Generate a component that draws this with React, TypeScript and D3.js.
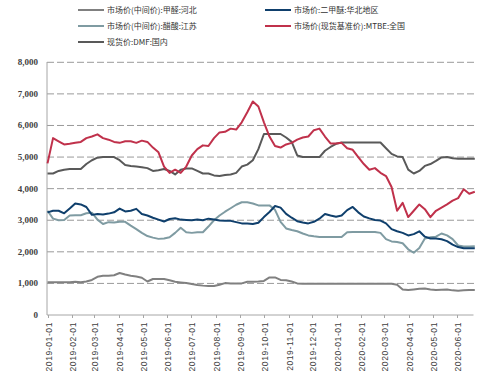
import React from "react";
import * as d3 from "d3";

const START_DATE = "2019-01-01";
const WEEKS = 78;

const monthTicks = [
  "2019-01-01", "2019-02-01", "2019-03-01", "2019-04-01", "2019-05-01", "2019-06-01",
  "2019-07-01", "2019-08-01", "2019-09-01", "2019-10-01", "2019-11-01", "2019-12-01",
  "2020-01-01", "2020-02-01", "2020-03-01", "2020-04-01", "2020-05-01", "2020-06-01",
];

const yTicks = [0, 1000, 2000, 3000, 4000, 5000, 6000, 7000, 8000];

const seriesNames = [
  "市场价(中间价):甲醛:河北",
  "市场价:二甲醚:华北地区",
  "市场价(中间价):醋酸:江苏",
  "市场价(现货基准价):MTBE:全国",
  "现货价:DMF:国内",
];

const formaldehyde = [
  1040, 1040, 1040, 1040, 1040, 1050, 1040, 1060, 1110, 1210,
  1240, 1240, 1260, 1330, 1280, 1240, 1220, 1180, 1060, 1140,
  1140, 1140, 1100, 1050, 1030, 1010, 980, 950, 930, 920,
  920, 960, 1010, 1000, 1000, 1000, 1050, 1050, 1060, 1080,
  1190, 1190, 1110, 1100, 1060, 1000, 990, 990, 990, 990,
  990, 990, 990, 990, 990, 990, 990, 990, 990, 990,
  990, 990, 990, 960, 810, 790, 810, 830, 840, 810,
  790, 800, 810, 780, 770, 780, 790, 790,
];

const dme = [
  3250, 3300, 3300, 3220, 3370, 3530, 3500, 3420, 3170, 3200,
  3180, 3210, 3250, 3370, 3280, 3300, 3360, 3200, 3150, 3080,
  3020, 2960, 3040, 3060, 3020, 3010, 3000, 3020, 3000, 3050,
  3020, 2990, 2980, 2980, 2940, 2900, 2900, 2880, 2920, 3100,
  3260, 3450, 3400, 3200, 3080, 2970, 2930, 2900, 2950, 3050,
  3200, 3150, 3110, 3150, 3320, 3420, 3250, 3120, 3060, 3010,
  2990, 2900, 2720, 2650, 2600, 2520, 2560, 2650, 2480, 2420,
  2420, 2400, 2340, 2230, 2150, 2110, 2110, 2110,
];

const aceticAcid = [
  3300, 3050, 3000, 3010, 3150, 3160, 3160, 3220, 3240, 3020,
  2880, 2940, 2930, 2950, 2950, 2830, 2720, 2600, 2500, 2450,
  2410, 2420, 2460, 2600, 2760, 2620, 2600, 2620, 2620, 2800,
  3000, 3150, 3270, 3380, 3490, 3570, 3570, 3530, 3470, 3470,
  3470, 3330, 2950, 2740, 2690, 2650, 2580, 2520, 2490, 2470,
  2470, 2470, 2470, 2470, 2620, 2630, 2630, 2630, 2630, 2630,
  2600, 2400, 2330, 2310, 2270, 2080, 1970, 2120, 2420, 2460,
  2480, 2580, 2520, 2400, 2200, 2170, 2170, 2180,
];

const mtbe = [
  4800, 5600, 5500, 5400, 5420, 5450, 5480, 5600, 5650, 5720,
  5600, 5550, 5480, 5450, 5500, 5500, 5450, 5520, 5480, 5300,
  5150, 4700, 4500, 4600, 4500, 4700, 5050, 5250, 5370, 5350,
  5600, 5780, 5800, 5900, 5870, 6100, 6420, 6760, 6600, 6100,
  5650, 5350, 5300, 5400, 5450, 5550, 5620, 5650, 5850, 5900,
  5650, 5430, 5430, 5450, 5280, 5230, 5000, 4780, 4600, 4650,
  4500, 4400, 4050, 3300, 3550, 3100, 3300, 3500, 3350, 3100,
  3300, 3400, 3500, 3620, 3700, 3980, 3840, 3900,
];

const dmf = [
  4480, 4480, 4560, 4600, 4620, 4620, 4620, 4780, 4900, 4980,
  5000, 5000, 5000, 4900, 4750, 4720, 4700, 4680, 4650, 4560,
  4580, 4620, 4560, 4450, 4600, 4640, 4640, 4560, 4480, 4480,
  4420, 4400, 4430, 4450, 4500, 4700, 4760, 4900, 5250, 5730,
  5730, 5730, 5730, 5620, 5480, 5050, 5000, 5000, 5000, 5000,
  5200, 5320, 5420, 5460, 5460, 5460, 5460, 5460, 5460, 5460,
  5460, 5280, 5100, 5020, 5000, 4600, 4480, 4560, 4720, 4780,
  4880, 4990, 5000, 4960, 4950, 4950, 4950, 4950,
];

const seriesColors = ["#808080", "#0f3f6c", "#7f9ba2", "#c0314b", "#595959"];

export default function App() {
  const parse = d3.timeParse("%Y-%m-%d");
  const start = parse(START_DATE) as Date;
  const dates = d3.range(WEEKS).map((i) => d3.timeDay.offset(start, 7 * i));
  const x = d3
    .scaleTime()
    .domain([start, dates[dates.length - 1]])
    .range([47.5, 474.8]);
  const y = d3.scaleLinear().domain([0, 8000]).range([315, 62.3]);

  const allSeries = [formaldehyde, dme, aceticAcid, mtbe, dmf];
  const line = d3
    .line<number>()
    .x((_, i) => x(dates[i]))
    .y((d) => y(d))
    .curve(d3.curveLinear);

  const legendPos = [
    { lx: 78, ly: 10 },
    { lx: 265, ly: 10 },
    { lx: 78, ly: 26 },
    { lx: 265, ly: 26 },
    { lx: 78, ly: 42 },
  ];

  const drawOrder = [0, 2, 1, 4, 3];

  return (
    <svg
      width={492}
      height={390}
      style={{ position: "absolute", left: 0, top: 0, background: "#fff" }}
    >
      {/* legend */}
      {seriesNames.map((name, i) => (
        <g key={name}>
          <line
            x1={legendPos[i].lx}
            x2={legendPos[i].lx + 26}
            y1={legendPos[i].ly}
            y2={legendPos[i].ly}
            stroke={seriesColors[i]}
            strokeWidth={2}
          />
          <text
            x={legendPos[i].lx + 29}
            y={legendPos[i].ly + 3}
            fontFamily="'Noto Sans CJK SC', sans-serif"
            fontSize={8}
            fill="#333"
          >
            {name}
          </text>
        </g>
      ))}

      {/* grid */}
      {yTicks.slice(1).map((t) => (
        <line
          key={t}
          x1={47}
          x2={475}
          y1={y(t)}
          y2={y(t)}
          stroke="#9a9a9a"
          strokeWidth={1}
          strokeDasharray="7,3"
        />
      ))}

      {/* y labels */}
      {yTicks.map((t) => (
        <text
          key={t}
          x={38}
          y={y(t) + 3}
          textAnchor="end"
          fontFamily="'Liberation Serif', serif"
          fontWeight="bold"
          fontSize={9}
          fill="#404040"
        >
          {d3.format(",")(t)}
        </text>
      ))}

      {/* axes */}
      <line x1={47} x2={47} y1={62} y2={315} stroke="#a6a6a6" strokeWidth={1} />
      <line x1={47} x2={473.5} y1={315} y2={315} stroke="#a6a6a6" strokeWidth={1} />
      {monthTicks.map((t) => {
        const xx = Math.round(x(parse(t) as Date)) + 0.5;
        return (
          <g key={t}>
            <line x1={xx} x2={xx} y1={315} y2={318} stroke="#a6a6a6" />
            <text
              transform={`translate(${xx + 3},${322}) rotate(-90)`}
              textAnchor="end"
              fontFamily="'Liberation Sans', Arial, sans-serif"
              fontSize={8.5}
              letterSpacing={0.6}
              fill="#404040"
            >
              {t}
            </text>
          </g>
        );
      })}

      {/* series */}
      {drawOrder.map((i) => (
        <path
          key={i}
          d={line(allSeries[i]) || ""}
          fill="none"
          stroke={seriesColors[i]}
          strokeWidth={2}
          strokeLinejoin="round"
        />
      ))}
    </svg>
  );
}
